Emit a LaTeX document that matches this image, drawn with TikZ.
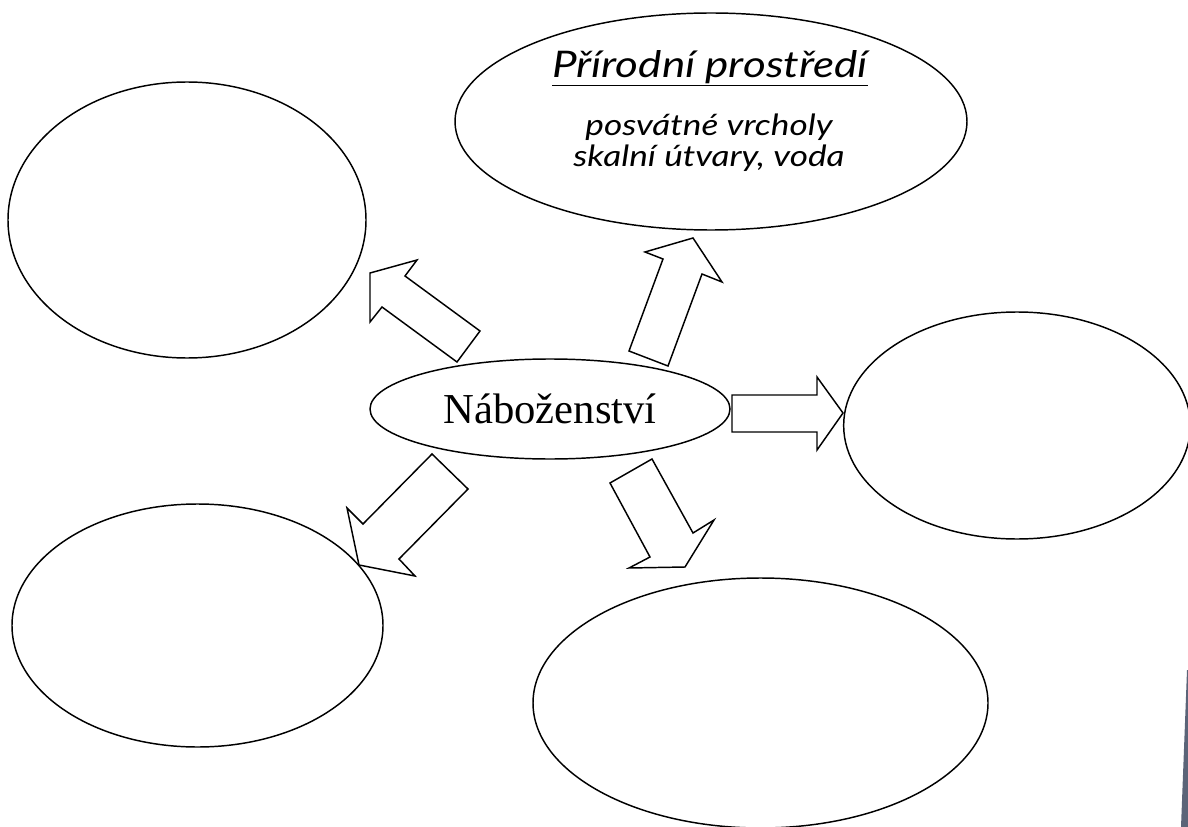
\documentclass[tikz,border=0pt]{standalone}
\usepackage{fontspec}
\setmainfont{Liberation Serif}
\newfontfamily\handfont{Lato Italic}[FakeStretch=1.2]
\usetikzlibrary{shapes.geometric}
\definecolor{wedgecol}{HTML}{5B6478}
\begin{document}
\begin{tikzpicture}[x=0.75pt,y=-0.75pt,
  bubble/.style={draw,ellipse,line width=1.1pt,inner sep=0pt,fill=white},
  blockarrow/.style={draw,line width=1.1pt,line join=miter,fill=white},
  handtext/.style={font=\handfont\fontsize{22}{23.25}\selectfont,align=center,inner sep=0pt}]
\useasboundingbox (0,0) rectangle (1188,827);
\clip (0,0) rectangle (1188,827);
% ellipses
\node[bubble,minimum width=268.5pt,minimum height=207pt] (tl) at (187,220) {};
\node[bubble,minimum width=384pt,minimum height=162.75pt] (top) at (711,121.5) {};
\node[bubble,minimum width=260pt,minimum height=170.25pt] (right) at (1017,425.5) {};
\node[bubble,minimum width=278.25pt,minimum height=182.25pt] (bl) at (197.5,625.5) {};
\node[bubble,minimum width=341.25pt,minimum height=187.5pt] (bottom) at (760.5,703) {};
\node[bubble,minimum width=270pt,minimum height=75pt,font=\fontsize{32}{36}\selectfont] (rel) at (550,409) {Náboženství};
% texts in top ellipse
\node[handtext,font=\handfont\fontsize{27.5}{29}\selectfont] (title) at (710,68) {\underline{Přírodní prostředí}};
\node[handtext] (body) at (709,142.5) {posvátné vrcholy\\skalní útvary, voda};
% block arrows
\draw[blockarrow] (370,273) -- (417,260) -- (405,276) -- (480,331) -- (457,362) -- (382,307) -- (370,322) -- cycle;
\draw[blockarrow] (693,238) -- (722,282) -- (702,274) -- (668,366) -- (629,351) -- (663,259) -- (645,252) -- cycle;
\draw[blockarrow] (843,413) -- (817,450) -- (817,432) -- (732,432) -- (732,395) -- (817,395) -- (817,377) -- cycle;
\draw[blockarrow] (359,565) -- (347,508) -- (363,524) -- (432,454) -- (468,489) -- (399,559) -- (415,576) -- cycle;
\draw[blockarrow] (685,567) -- (629,568) -- (650,557) -- (610,483) -- (652,459) -- (693,533) -- (714,520) -- cycle;
% wedge at bottom right
\fill[wedgecol] (1187,670) -- (1188,670) -- (1188,827) -- (1181,827) -- cycle;
\end{tikzpicture}
\end{document}
